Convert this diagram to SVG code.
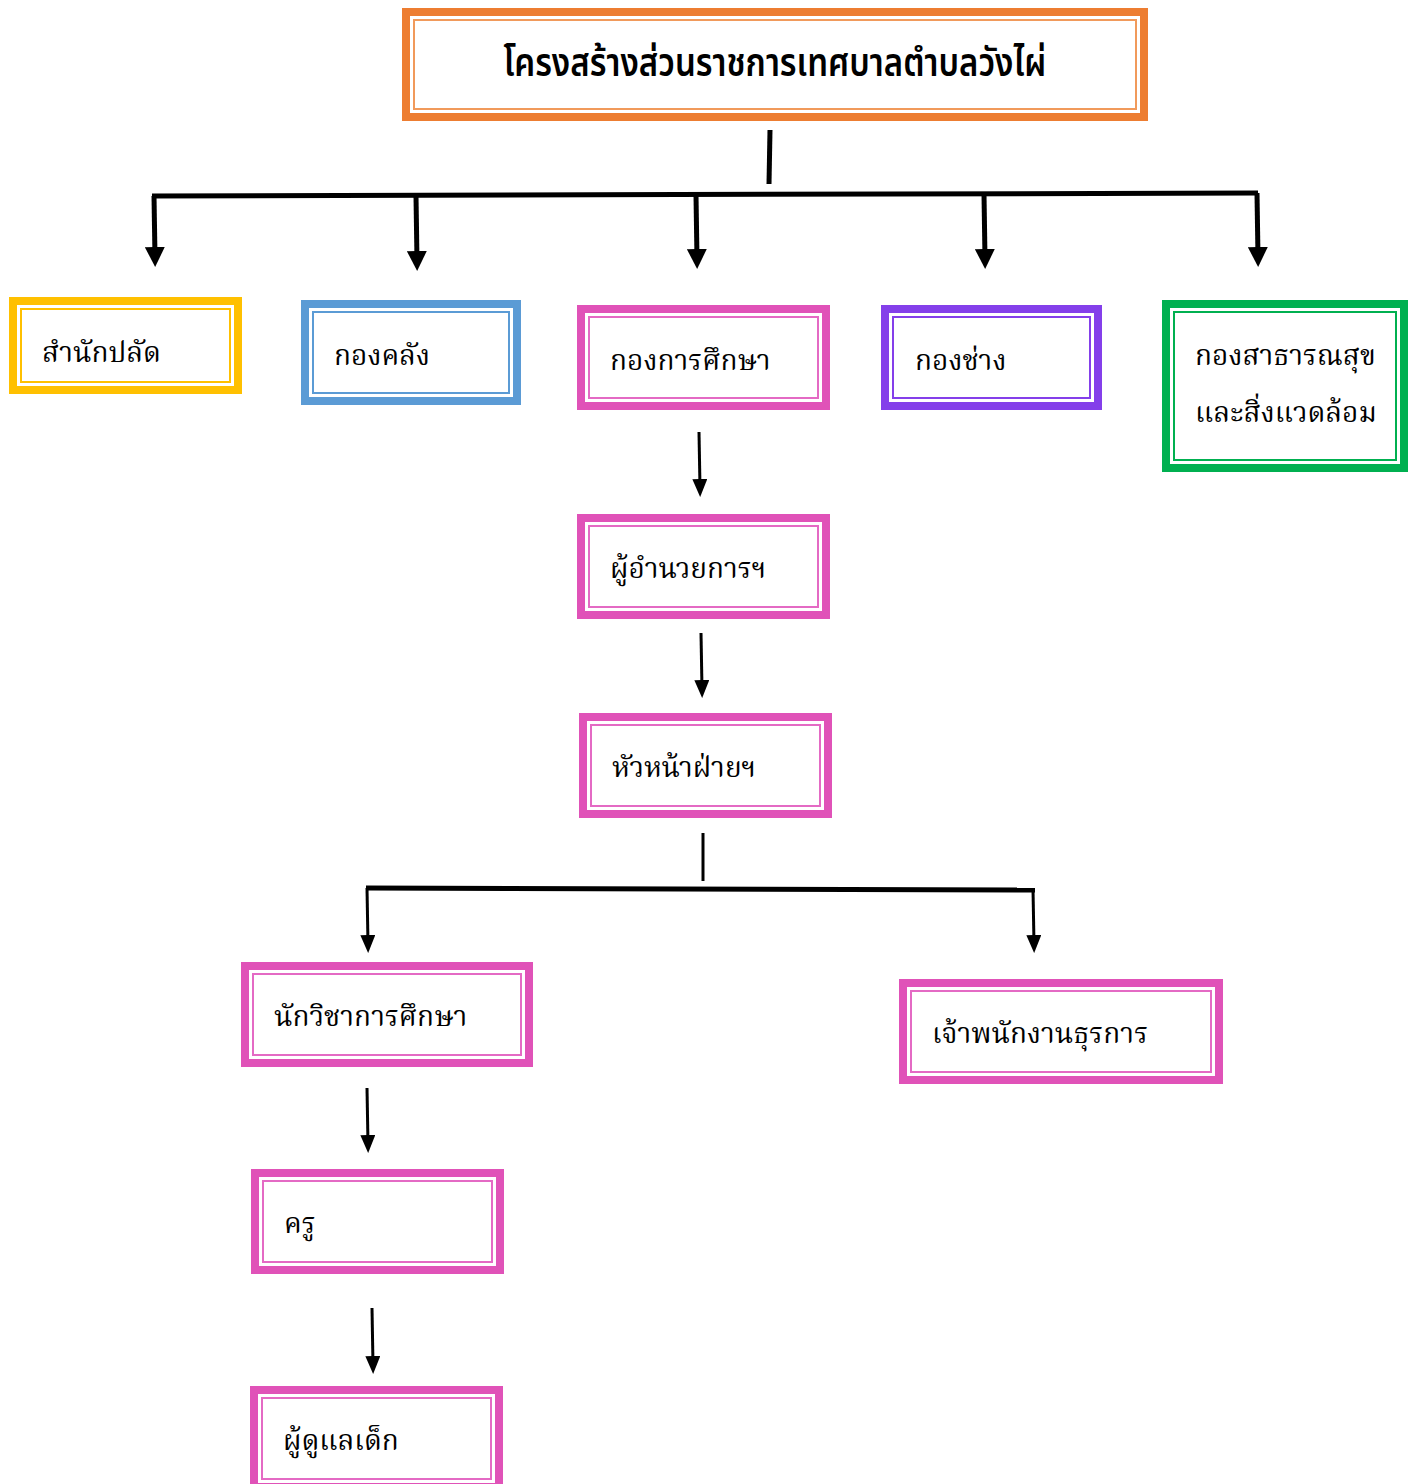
<svg xmlns="http://www.w3.org/2000/svg" width="1415" height="1484" viewBox="0 0 1415 1484">
<style>
.ob{fill:none;stroke-width:8}
.ib{fill:none;stroke-width:2}
.t{font-family:"Noto Serif Thai","Noto Sans Thai","Liberation Serif",serif;font-size:28px;fill:#000}
.tt{font-family:"Noto Sans Thai","Liberation Sans",sans-serif;font-size:39px;fill:#000;font-weight:600}
.pk .ob{stroke:#E052B8}.pk .ib{stroke:#E46AC4}
.c{stroke:#000;fill:none}
</style>
<defs>
<marker id="ah" markerWidth="4" markerHeight="4" refX="2" refY="2" orient="auto" markerUnits="strokeWidth" viewBox="0 0 4 4"><path d="M0,0 L4,2 L0,4 Z" fill="#000"/></marker>
<marker id="ah2" markerWidth="6" markerHeight="5" refX="3" refY="2.5" orient="auto" markerUnits="strokeWidth" viewBox="0 0 6 5"><path d="M0,0 L6,2.5 L0,5 Z" fill="#000"/></marker>
</defs>
<g id="title"><rect class="ob" x="406" y="12" width="738" height="105" stroke="#ED7D31"/><rect class="ib" x="414" y="20" width="722" height="89" stroke="#F19A5B"/><text class="tt" transform="translate(775,76) scale(0.845,1)" text-anchor="middle">โครงสร้างส่วนราชการเทศบาลตำบลวังไผ่</text></g>
<g id="n1"><rect class="ob" x="13" y="301" width="225" height="89" stroke="#FFC000"/><rect class="ib" x="21" y="309" width="209" height="73" stroke="#FFC000"/><text class="t" x="42" y="362">สำนักปลัด</text></g>
<g id="n2"><rect class="ob" x="305" y="304" width="212" height="97" stroke="#5B9BD5"/><rect class="ib" x="313" y="312" width="196" height="81" stroke="#5B9BD5"/><text class="t" x="334" y="365">กองคลัง</text></g>
<g id="n3" class="pk"><rect class="ob" x="581" y="309" width="245" height="97"/><rect class="ib" x="589" y="317" width="229" height="81"/><text class="t" x="610" y="370">กองการศึกษา</text></g>
<g id="n4"><rect class="ob" x="885" y="309" width="213" height="97" stroke="#843FEA"/><rect class="ib" x="893" y="317" width="197" height="81" stroke="#843FEA"/><text class="t" x="915" y="370">กองช่าง</text></g>
<g id="n5"><rect class="ob" x="1166" y="304" width="238" height="164" stroke="#00B050"/><rect class="ib" x="1174" y="312" width="222" height="148" stroke="#00B050"/><text class="t" x="1195" y="365">กองสาธารณสุข</text><text class="t" x="1195" y="422">และสิ่งแวดล้อม</text></g>
<g id="n6" class="pk"><rect class="ob" x="581" y="518" width="245" height="97"/><rect class="ib" x="589" y="526" width="229" height="81"/><text class="t" x="610" y="578">ผู้อำนวยการฯ</text></g>
<g id="n7" class="pk"><rect class="ob" x="583" y="717" width="245" height="97"/><rect class="ib" x="591" y="725" width="229" height="81"/><text class="t" x="612" y="777">หัวหน้าฝ่ายฯ</text></g>
<g id="n8" class="pk"><rect class="ob" x="245" y="966" width="284" height="97"/><rect class="ib" x="253" y="974" width="268" height="81"/><text class="t" x="274" y="1026">นักวิชาการศึกษา</text></g>
<g id="n9" class="pk"><rect class="ob" x="903" y="983" width="316" height="97"/><rect class="ib" x="911" y="991" width="300" height="81"/><text class="t" x="932" y="1043">เจ้าพนักงานธุรการ</text></g>
<g id="n10" class="pk"><rect class="ob" x="255" y="1173" width="245" height="97"/><rect class="ib" x="263" y="1181" width="229" height="81"/><text class="t" x="284" y="1233">ครู</text></g>
<g id="n11" class="pk"><rect class="ob" x="254" y="1390" width="245" height="97"/><rect class="ib" x="262" y="1398" width="229" height="81"/><text class="t" x="283" y="1450">ผู้ดูแลเด็ก</text></g>
<g id="connectors">
<path class="c" stroke-width="5" d="M770,130 L769,184"/>
<path class="c" stroke-width="5" d="M152,196 L1258,193"/>
<path class="c" stroke-width="5" d="M154,196 L155,257" marker-end="url(#ah)"/>
<path class="c" stroke-width="5" d="M416,196 L417,261" marker-end="url(#ah)"/>
<path class="c" stroke-width="5" d="M696,195 L697,259" marker-end="url(#ah)"/>
<path class="c" stroke-width="5" d="M984,194 L985,259" marker-end="url(#ah)"/>
<path class="c" stroke-width="5" d="M1257,193 L1258,257" marker-end="url(#ah)"/>
<path class="c" stroke-width="3" d="M699,432 L700,488" marker-end="url(#ah2)"/>
<path class="c" stroke-width="3" d="M701,633 L702,689" marker-end="url(#ah2)"/>
<path class="c" stroke-width="3" d="M703,833 L703,881"/>
<path class="c" stroke-width="5" d="M366,888 L1035,890"/>
<path class="c" stroke-width="3" d="M367,888 L368,944" marker-end="url(#ah2)"/>
<path class="c" stroke-width="3" d="M1033,889 L1034,944" marker-end="url(#ah2)"/>
<path class="c" stroke-width="3" d="M367,1088 L368,1144" marker-end="url(#ah2)"/>
<path class="c" stroke-width="3" d="M372,1308 L373,1365" marker-end="url(#ah2)"/>
</g>
</svg>
